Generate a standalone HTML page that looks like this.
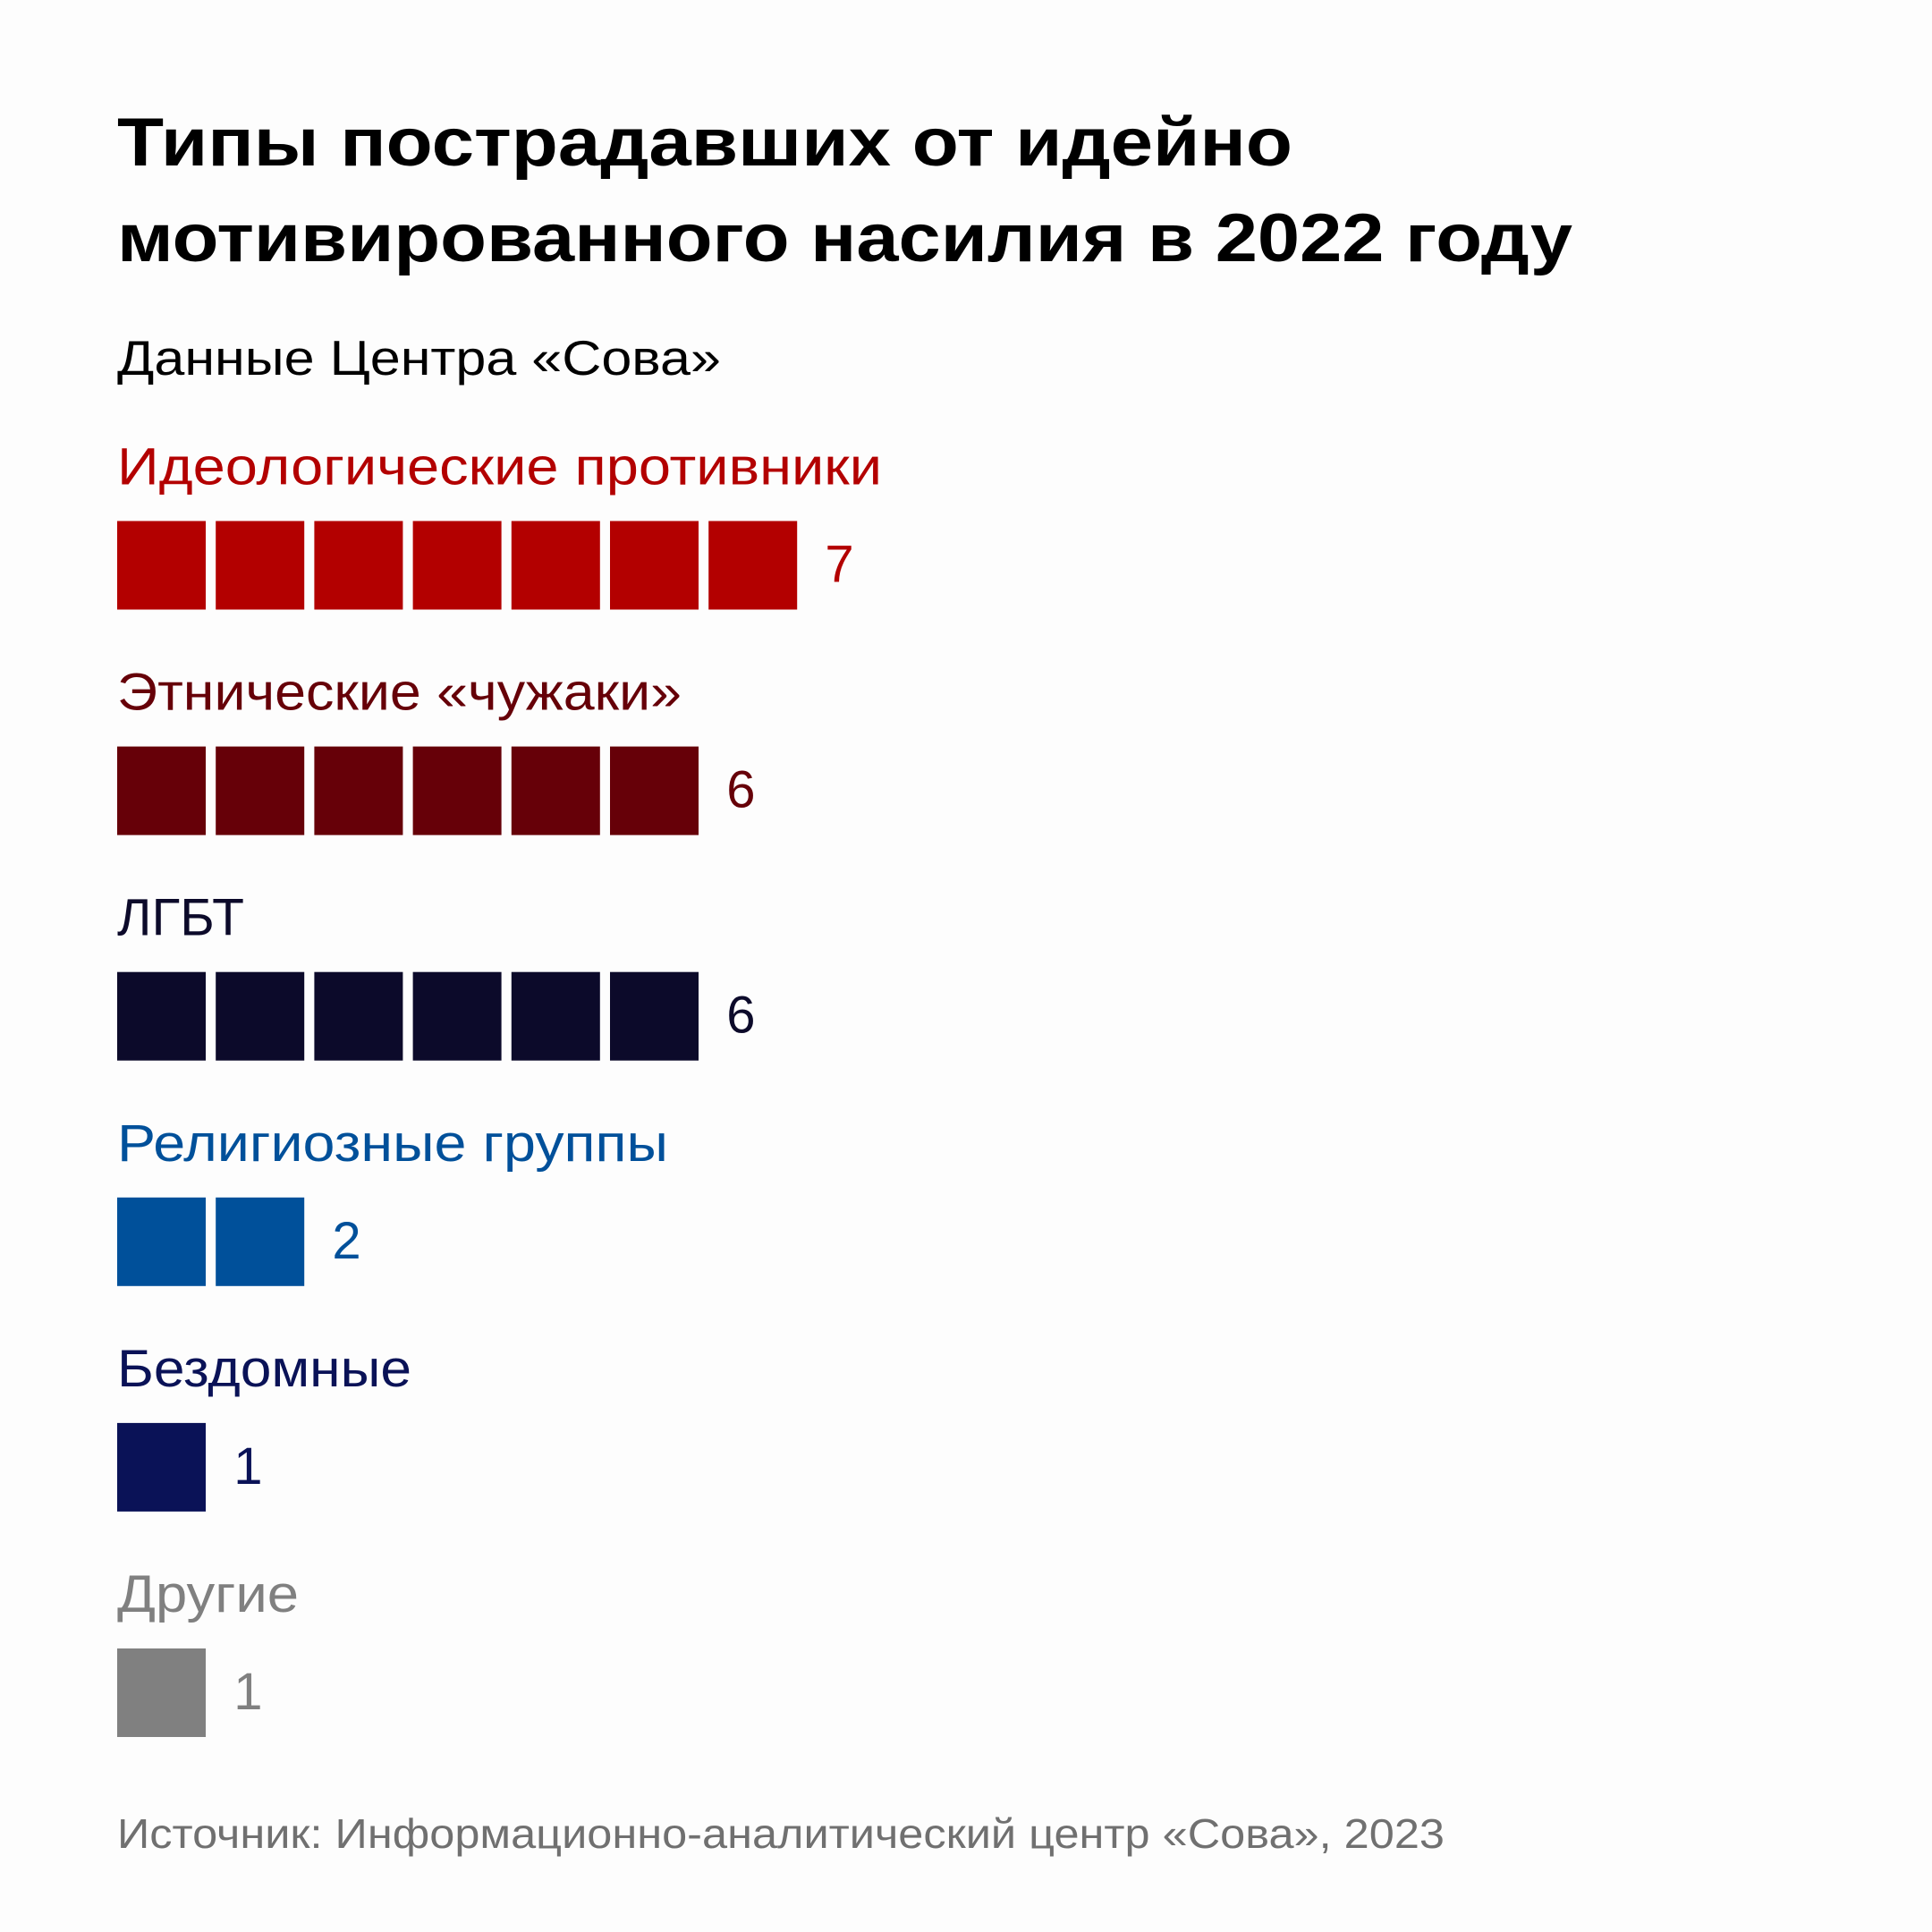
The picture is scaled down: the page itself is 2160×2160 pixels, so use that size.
<!DOCTYPE html>
<html><head><meta charset="utf-8"><style>
html,body{margin:0;padding:0;background:#fdfdfd}
svg{display:block;font-family:"Liberation Sans",sans-serif}
</style></head><body>
<svg id="chart" width="2160" height="2160" viewBox="0 0 2160 2160" xmlns="http://www.w3.org/2000/svg">
<rect width="2160" height="2160" fill="#fdfdfd"/>
<text x="131" y="185" font-size="76" font-weight="bold" fill="#000" textLength="1314" lengthAdjust="spacingAndGlyphs">Типы пострадавших от идейно</text>
<text x="131" y="292" font-size="76" font-weight="bold" fill="#000" textLength="1627" lengthAdjust="spacingAndGlyphs">мотивированного насилия в 2022 году</text>
<text x="131" y="419" font-size="55" fill="#000" textLength="675" lengthAdjust="spacingAndGlyphs">Данные Центра «Сова»</text>
<g id="rows"></g>
<text x="131" y="2066" font-size="46" fill="#707070" textLength="1484" lengthAdjust="spacingAndGlyphs">Источник: Информационно-аналитический центр «Сова», 2023</text>
</svg>
<script>
const categories = ["Идеологические противники","Этнические «чужаки»","ЛГБТ","Религиозные группы","Бездомные","Другие"];
const values = [7,6,6,2,1,1];
const colors = ["#b30000","#660008","#0c0a2a","#00509a","#0a1257","#808080"];
const labelWidths = [855,631,142,616,329,203];
const NS="http://www.w3.org/2000/svg";
const g=document.getElementById('rows');
const x0=131, sq=99, pitch=110.2, rowPitch=252.1;
function rowY(i){return 582.5+i*rowPitch;}
function colX(j){return x0+j*pitch;}
categories.forEach((c,i)=>{
  const y=rowY(i);
  const t=document.createElementNS(NS,'text');
  
  
  t.setAttribute('x',x0);t.setAttribute('y',y-41);
  t.setAttribute('font-size','58');t.setAttribute('fill',colors[i]);
  t.setAttribute('textLength',labelWidths[i]);t.setAttribute('lengthAdjust','spacingAndGlyphs');
  t.textContent=c;g.appendChild(t);
  for(let j=0;j<values[i];j++){
    const r=document.createElementNS(NS,'rect');
    
    
    r.setAttribute('x',colX(j));r.setAttribute('y',y);
    r.setAttribute('width',sq);r.setAttribute('height',sq);
    r.setAttribute('fill',colors[i]);g.appendChild(r);
  }
  const v=document.createElementNS(NS,'text');
  
  
  v.setAttribute('x',colX(values[i])+20);v.setAttribute('y',y+68);
  v.setAttribute('font-size','58');v.setAttribute('fill',colors[i]);
  v.textContent=values[i];g.appendChild(v);
});
</script>
</body></html>
